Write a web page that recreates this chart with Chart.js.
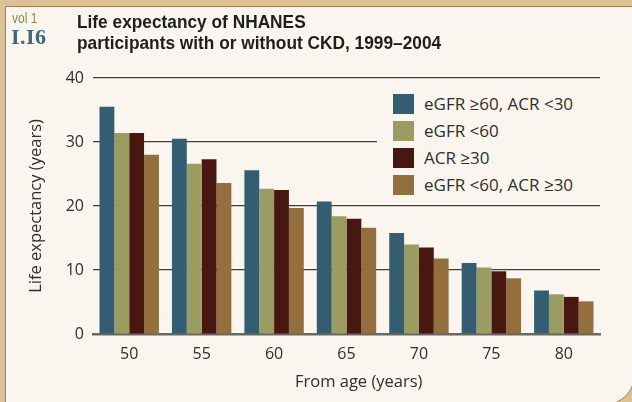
<!DOCTYPE html>
<html>
<head>
<meta charset="utf-8">
<script src="https://cdn.jsdelivr.net/npm/chart.js@4.4.1/dist/chart.umd.min.js"></script>
<style>
  html, body { margin: 0; padding: 0; }
  body { width: 632px; height: 402px; overflow: hidden; background: #dcc197; position: relative; }
  #panel {
    position: absolute; left: 5px; top: 6px; width: 628px; height: 397px;
    background: #faf6ef; border: 1px solid #a47d4c; border-bottom-right-radius: 30px;
  }
  #vol { position: absolute; left: 12px; top: 9px; font: 15px "Liberation Sans", sans-serif; color: #8b8b4b;
         transform: scaleX(0.8); transform-origin: 0 0; }
  #fig { position: absolute; left: 11px; top: 24px; font: 600 22px "Liberation Serif", "DejaVu Serif", serif; color: #3a687e; letter-spacing: 0.5px; }
  #title { position: absolute; left: 77px; top: 11px; font: bold 19px/21px "Liberation Sans", sans-serif; color: #1e1e1e;
           transform: scaleX(0.91); transform-origin: 0 0; white-space: nowrap; }
  #xtitle { position: absolute; left: 295px; top: 371px; font: 16.5px/20px "Open Sans", sans-serif; color: #2e2e2e; white-space: nowrap; }
  #legend { position: absolute; left: 377px; top: 86px; width: 226px; height: 112px; background: #faf6ef; }
  .item { position: absolute; left: 16px; height: 20px; font: 17px "Open Sans", sans-serif; color: #2e2e2e; white-space: nowrap; }
  .item span.box { position: absolute; left: 0; top: 0; width: 21px; height: 20px; }
  .item span.txt { position: absolute; left: 31px; top: -1px; line-height: 21px; }
  canvas { position: absolute; left: 0; top: 0; }
</style>
</head>
<body>
<div id="panel"></div>
<canvas id="chart" width="632" height="402"></canvas>
<div id="vol">vol 1</div>
<div id="fig">I.I6</div>
<div id="title">Life expectancy of NHANES<br>participants with or without CKD, 1999–2004</div>
<div id="xtitle">From age (years)</div>
<div id="legend"></div>
<script>
var ages = ['50', '55', '60', '65', '70', '75', '80'];
var seriesNames = ['eGFR \u226560, ACR <30', 'eGFR <60', 'ACR \u226530', 'eGFR <60, ACR \u226530'];
var noCkd = [35.5, 30.5, 25.6, 20.7, 15.8, 11.1, 6.8];
var lowGfr = [31.4, 26.6, 22.7, 18.4, 14.0, 10.4, 6.2];
var highAcr = [31.4, 27.3, 22.5, 18.0, 13.5, 9.8, 5.8];
var both = [28.0, 23.6, 19.7, 16.6, 11.8, 8.7, 5.1];
var yTicks = [0, 10, 20, 30, 40];

var colors = ['#355d71', '#9b9c62', '#48170f', '#936f3d'];
var values = [noCkd, lowGfr, highAcr, both];

var legend = document.getElementById('legend');
seriesNames.forEach(function(name, i) {
    var row = document.createElement('div');
    row.className = 'item';
    row.style.top = (8 + i * 27) + 'px';
    row.innerHTML = '<span class="box" style="background:' + colors[i] + '"></span><span class="txt">' + name + '</span>';
    legend.appendChild(row);
});

var tickFont = { family: '"Open Sans", sans-serif', size: 16 };
var titleFont = { family: '"Open Sans", sans-serif', size: 16.5 };

var ctx = document.getElementById('chart').getContext('2d');
new Chart(ctx, {
    type: 'bar',
    data: {
        labels: ages,
        datasets: values.map(function(v, i) {
            return {
                label: seriesNames[i],
                data: v,
                backgroundColor: colors[i],
                borderWidth: 0,
                categoryPercentage: 0.82,
                barPercentage: 1.0
            };
        })
    },
    options: {
        responsive: false,
        animation: false,
        layout: { padding: { left: 26, right: 32, top: 78, bottom: 0 } },
        plugins: { legend: { display: false }, tooltip: { enabled: false } },
        scales: {
            x: {
                grid: { display: false, drawTicks: false },
                border: { color: '#6b6864', width: 2.5 },
                ticks: { color: '#2e2e2e', font: tickFont, padding: 11 },
                afterFit: function(s) { s.height = 68; }
            },
            y: {
                min: 0, max: 40,
                afterBuildTicks: function(s) { s.ticks = yTicks.map(function(v) { return { value: v }; }); },
                grid: { color: '#3e3e3e', lineWidth: 1.2, drawTicks: false },
                border: { display: false },
                ticks: { color: '#2e2e2e', font: tickFont, padding: 9 },
                title: { display: true, text: 'Life expectancy (years)', color: '#2e2e2e', font: titleFont, padding: 0 },
                afterFit: function(s) { s.width = 67; }
            }
        }
    }
});
</script>
</body>
</html>
